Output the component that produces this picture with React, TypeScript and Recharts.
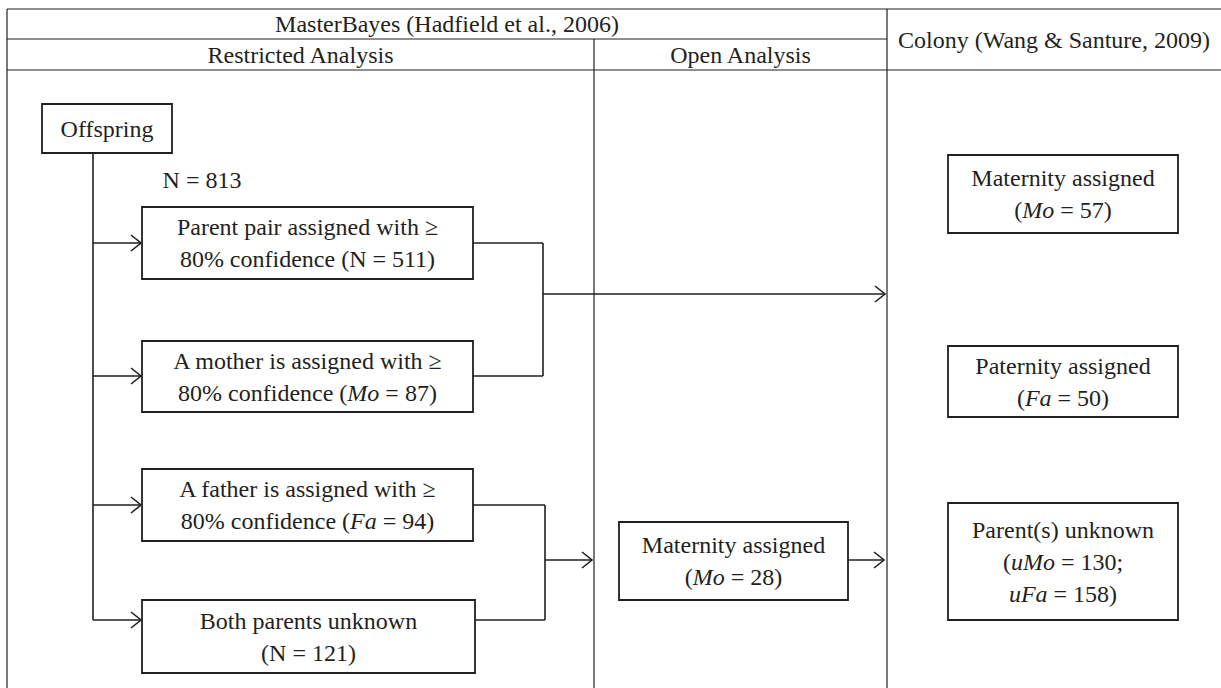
import { ComposedChart, XAxis, YAxis, ReferenceArea, ReferenceLine, Scatter } from "recharts";

const W = 1221;
const H = 688;
const INK = "#231f20";
const FONT = "'Liberation Serif', 'Times New Roman', serif";
const FONT_SIZE = 24;
const LINE_H = 32;

// texts (words between _ _ are set in italics)
const headerTitles = [
  "MasterBayes (Hadfield et al., 2006)",
  "Restricted Analysis",
  "Open Analysis",
  "Colony (Wang & Santure, 2009)",
];
const boxLabels = [
  ["Offspring"],
  ["Parent pair assigned with \u2265", "80% confidence (N = 511)"],
  ["A mother is assigned with \u2265", "80% confidence (_Mo_ = 87)"],
  ["A father is assigned with \u2265", "80% confidence (_Fa_ = 94)"],
  ["Both parents unknown", "(N = 121)"],
  ["Maternity assigned", "(_Mo_ = 28)"],
  ["Maternity assigned", "(_Mo_ = 57)"],
  ["Paternity assigned", "(_Fa_ = 50)"],
  ["Parent(s) unknown", "(_uMo_ = 130;", "_uFa_ = 158)"],
];
const totalLabel = "N = 813";

// layout, in picture pixels (x runs 0..1221, y runs 0..688 downwards)
const headerRows = [9, 39, 70];
const columnEdges = [7, 594, 887];
const boxes = [
  { x1: 42, x2: 172, y1: 104, y2: 153 },
  { x1: 142, x2: 473, y1: 207, y2: 279 },
  { x1: 142, x2: 473, y1: 341, y2: 412 },
  { x1: 142, x2: 473, y1: 469, y2: 541 },
  { x1: 142, x2: 475, y1: 600, y2: 673 },
  { x1: 619, x2: 848, y1: 522, y2: 600 },
  { x1: 948, x2: 1178, y1: 155, y2: 233 },
  { x1: 948, x2: 1178, y1: 346, y2: 417 },
  { x1: 948, x2: 1178, y1: 503, y2: 620 },
];
const totalAt = { x: 202, y: 180 };

// connector polylines and arrow tips
const connectors = [
  [[93, 153], [93, 620]],
  [[93, 243], [141, 243]],
  [[93, 376], [141, 376]],
  [[93, 505], [141, 505]],
  [[93, 620], [141, 620]],
  [[473, 243], [543, 243], [543, 376], [473, 376]],
  [[543, 294], [885, 294]],
  [[473, 505], [545, 505], [545, 620], [475, 620]],
  [[545, 560], [592, 560]],
  [[848, 560], [884, 560]],
];
const arrowTips = [
  { x: 141, y: 243 },
  { x: 141, y: 376 },
  { x: 141, y: 505 },
  { x: 141, y: 620 },
  { x: 885, y: 294 },
  { x: 592, y: 560 },
  { x: 884, y: 560 },
];

const tableLines = [
  [[columnEdges[0], headerRows[0]], [W, headerRows[0]]],
  [[columnEdges[0], headerRows[1]], [columnEdges[2], headerRows[1]]],
  [[columnEdges[0], headerRows[2]], [W, headerRows[2]]],
  [[columnEdges[0], headerRows[0]], [columnEdges[0], H]],
  [[columnEdges[1], headerRows[1]], [columnEdges[1], H]],
  [[columnEdges[2], headerRows[0]], [columnEdges[2], H]],
];

const labels = [
  { x: (columnEdges[0] + columnEdges[2]) / 2, y: (headerRows[0] + headerRows[1]) / 2, lines: [headerTitles[0]] },
  { x: (columnEdges[0] + columnEdges[1]) / 2, y: (headerRows[1] + headerRows[2]) / 2, lines: [headerTitles[1]] },
  { x: (columnEdges[1] + columnEdges[2]) / 2, y: (headerRows[1] + headerRows[2]) / 2, lines: [headerTitles[2]] },
  { x: (columnEdges[2] + W) / 2, y: (headerRows[0] + headerRows[2]) / 2, lines: [headerTitles[3]] },
  ...boxes.map((b, i) => ({ x: (b.x1 + b.x2) / 2, y: (b.y1 + b.y2) / 2, lines: boxLabels[i] })),
  { x: totalAt.x, y: totalAt.y, lines: [totalLabel] },
];

function richLine(s: string) {
  return s.split("_").map((part, i) => (
    <tspan key={i} fontStyle={i % 2 ? "italic" : "normal"}>
      {part}
    </tspan>
  ));
}

const LabelShape = (props: any) => {
  const { cx, cy, payload } = props;
  const lines: string[] = payload.lines;
  const top = cy - ((lines.length - 1) * LINE_H) / 2 + FONT_SIZE * 0.34;
  return (
    <text textAnchor="middle" fontFamily={FONT} fontSize={FONT_SIZE} fill={INK}>
      {lines.map((l, i) => (
        <tspan key={i} x={cx} y={top + i * LINE_H}>
          {richLine(l)}
        </tspan>
      ))}
    </text>
  );
};

const ArrowShape = (props: any) => {
  const { cx, cy } = props;
  return (
    <path
      d={`M${cx - 10},${cy - 8} L${cx},${cy} L${cx - 10},${cy + 8}`}
      fill="none"
      stroke={INK}
      strokeWidth={1.6}
    />
  );
};

function segments(lines: number[][][]) {
  const out: { a: number[]; b: number[] }[] = [];
  lines.forEach((pl) => {
    for (let i = 0; i < pl.length - 1; i++) out.push({ a: pl[i], b: pl[i + 1] });
  });
  return out;
}

export default function App() {
  return (
    <div style={{ position: "absolute", left: 0, top: 0, width: W, height: H, background: "#fff" }}>
      <ComposedChart width={W} height={H} margin={{ top: 0, right: 0, bottom: 0, left: 0 }}>
        <XAxis type="number" dataKey="x" domain={[0, W]} hide allowDataOverflow />
        <YAxis type="number" dataKey="y" domain={[0, H]} reversed hide allowDataOverflow />
        {segments(tableLines).map((s, i) => (
          <ReferenceLine
            key={"t" + i}
            segment={[{ x: s.a[0], y: s.a[1] }, { x: s.b[0], y: s.b[1] }]}
            stroke={INK}
            strokeWidth={1.2}
          />
        ))}
        {boxes.map((b, i) => (
          <ReferenceArea
            key={"b" + i}
            x1={b.x1}
            x2={b.x2}
            y1={b.y1}
            y2={b.y2}
            fill="none"
            stroke={INK}
            strokeWidth={1.8}
          />
        ))}
        {segments(connectors).map((s, i) => (
          <ReferenceLine
            key={"c" + i}
            segment={[{ x: s.a[0], y: s.a[1] }, { x: s.b[0], y: s.b[1] }]}
            stroke={INK}
            strokeWidth={1.6}
          />
        ))}
        <Scatter data={arrowTips} shape={ArrowShape} isAnimationActive={false} />
        <Scatter data={labels} shape={LabelShape} isAnimationActive={false} />
      </ComposedChart>
    </div>
  );
}
